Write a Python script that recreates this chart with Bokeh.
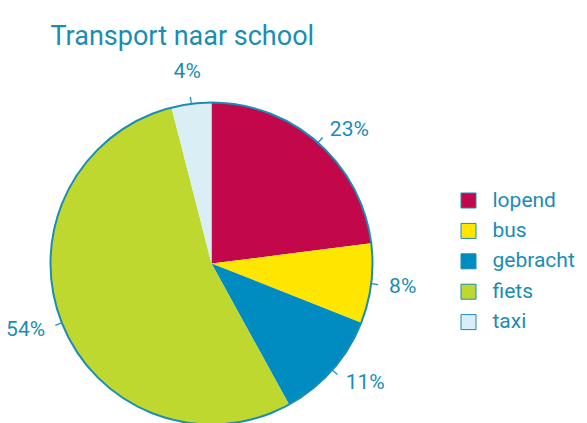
import math
from bokeh.plotting import figure
from bokeh.models import Range1d, ColumnDataSource
from bokeh.core.properties import value
from bokeh.embed import file_html
from bokeh.resources import INLINE

# ---- data ----
categories = ["lopend", "bus", "gebracht", "fiets", "taxi"]
percentages = [23, 8, 11, 54, 4]
labels = ["23%", "8%", "11%", "54%", "4%"]
colors = ["#C2074B", "#FFE600", "#008BC1", "#BED82F", "#DAEEF5"]
title_text = "Transport naar school"

TEAL = "#1A8DB5"
FONT = "Roboto"

W, H = 579, 423
p = figure(width=W, height=H, output_backend="svg", toolbar_location=None,
           x_range=Range1d(0, W), y_range=Range1d(0, H),
           min_border=0)
p.axis.visible = False
p.grid.visible = False
p.outline_line_color = None
p.background_fill_color = "white"

def Y(ys):
    return H - ys

cx, cy, r = 211, Y(263), 161

total = sum(percentages)
starts, ends, mids = [], [], []
cum = 0
for v in percentages:
    a0 = math.pi / 2 - 2 * math.pi * cum / total
    cum += v
    a1 = math.pi / 2 - 2 * math.pi * cum / total
    starts.append(a0)
    ends.append(a1)
    mids.append((a0 + a1) / 2)

src = ColumnDataSource(dict(start=starts, end=ends, color=colors))
p.wedge(x=cx, y=cy, radius=r, start_angle="start", end_angle="end",
        direction="clock", fill_color="color", line_color=None, source=src)
p.scatter(x=[cx], y=[cy], size=2 * r, fill_color=None, line_color=TEAL,
          line_width=2, marker="circle")

# ticks and percentage labels
x0 = [cx + r * math.cos(a) for a in mids]
y0 = [cy + r * math.sin(a) for a in mids]
x1 = [cx + (r + 7) * math.cos(a) for a in mids]
y1 = [cy + (r + 7) * math.sin(a) for a in mids]
p.segment(x0=x0, y0=y0, x1=x1, y1=y1, line_color=TEAL, line_width=1.2)

lx, ly, la = [], [], []
for a in mids:
    c = math.cos(a)
    if c > 0.3:
        d, al = 179, "left"
    elif c < -0.3:
        d, al = 179, "right"
    else:
        d, al = 194, "center"
    lx.append(cx + d * math.cos(a))
    ly.append(cy + d * math.sin(a))
    la.append(al)
lsrc = ColumnDataSource(dict(x=lx, y=ly, text=labels, align=la))
p.text(x="x", y="y", text="text", text_align="align", source=lsrc,
       text_font=value(FONT), text_font_size="21px",
       text_color=TEAL, text_baseline="middle")

# legend
leg_y = [Y(200 + 30.4 * i) for i in range(len(categories))]
p.rect(x=[468] * len(categories), y=leg_y, width=15, height=15,
       fill_color=colors, line_color=TEAL, line_width=1)
p.text(x=[492] * len(categories), y=[v + 1 for v in leg_y], text=categories,
       text_font=value(FONT), text_font_size="21px", text_color=TEAL,
       text_align="left", text_baseline="middle")

# title
p.text(x=[50], y=[Y(35)], text=[title_text], text_font=value(FONT),
       text_font_size="27px", text_color=TEAL, text_align="left",
       text_baseline="alphabetic")

open("out.html", "w").write(file_html(p, INLINE))
